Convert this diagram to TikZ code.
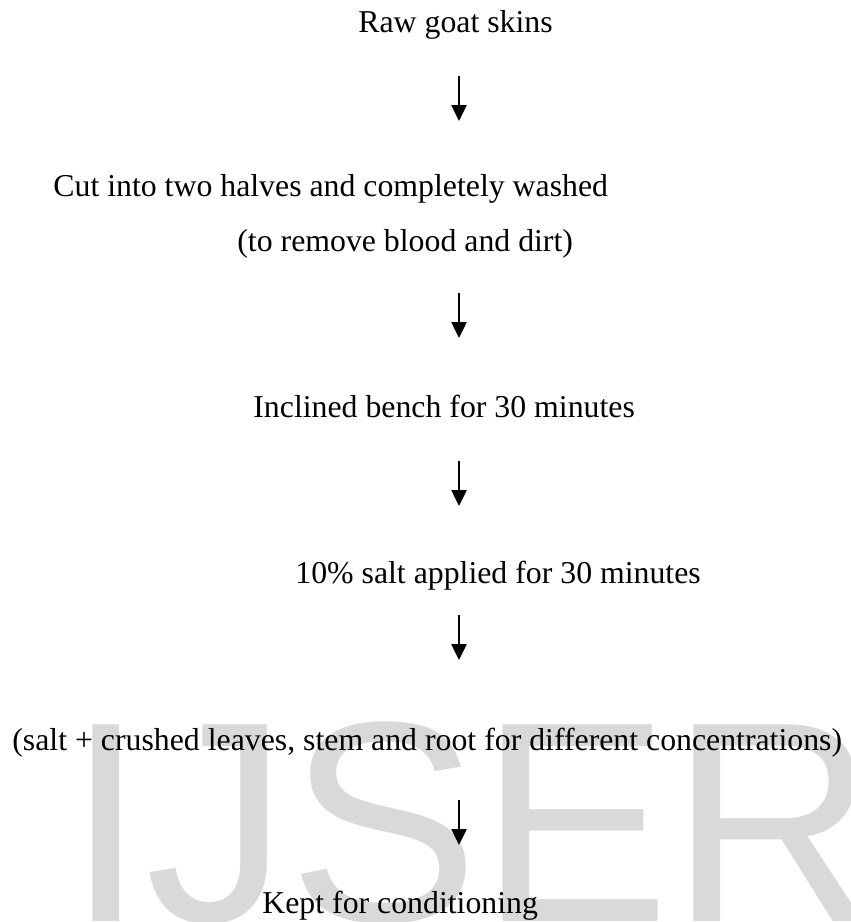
\documentclass[tikz,border=0pt]{standalone}
\usepackage{fontspec}
\setmainfont{Liberation Serif}
\newfontfamily\wmfont{Liberation Sans}
\usepackage{tikz}
\usetikzlibrary{arrows.meta,positioning}

\begin{document}
\begin{tikzpicture}[x=0.5pt,y=-0.5pt,
  stage/.style={anchor=base west, inner sep=0pt, font=\fontsize{15.9}{19}\selectfont},
  flow/.style={-{Triangle[length=8pt,width=7.5pt]}, line width=1.25pt}]

% page frame
\useasboundingbox (0,0) rectangle (851,922);

% watermark
\node[anchor=base west, inner sep=0pt, text=gray!30,
  font=\wmfont\fontsize{143}{143}\selectfont] (wm) at (66,921) {IJSER};

% process steps
\node[stage] (raw)   at (358,32)  {Raw goat skins};
\node[stage] (cut)   at (53,196)  {Cut into two halves and completely washed};
\node[stage] (wash)  at (237,251) {(to remove blood and dirt)};
\node[stage] (bench) at (253,417) {Inclined bench for 30 minutes};
\node[stage] (salt)  at (295,583) {10\% salt applied for 30 minutes};
\node[stage] (mix)   at (12,750)  {(salt + crushed leaves, stem and root for different concentrations)};
\node[stage] (kept)  at (262,913) {Kept for conditioning};

% arrows between the steps
\foreach \n/\t/\b in {1/76/121, 2/293/338, 3/461/506, 4/615/660, 5/800/845} {
  \coordinate (a\n top) at (459,\t);
  \coordinate (a\n tip) at (459,\b);
  \draw[flow] (a\n top) -- (a\n tip);
}

\end{tikzpicture}
\end{document}
